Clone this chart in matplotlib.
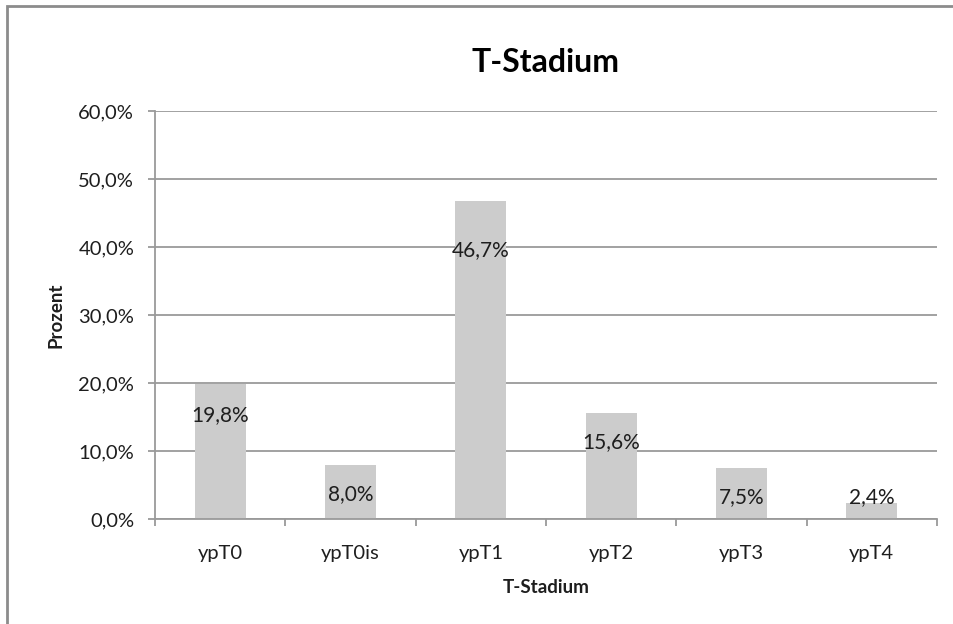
import numpy as np
import matplotlib
matplotlib.use("Agg")
import matplotlib.pyplot as plt
from matplotlib.patches import Rectangle
from matplotlib.ticker import FuncFormatter

# T-Stadium Verteilung (Prozent)
stadien = ["ypT0", "ypT0is", "ypT1", "ypT2", "ypT3", "ypT4"]
prozent = [19.8, 8.0, 46.7, 15.6, 7.5, 2.4]
# Lage der Beschriftung relativ zur Balkenoberkante (Punkte)
label_offset = [-22, -21, -35, -21, -21, 4]

plt.rcParams['font.family'] = ['Lato', 'DejaVu Sans']

grau = "#9a9a9a"
text_farbe = "#1e1e1e"

fig = plt.figure(figsize=(9.54, 6.24), dpi=100)
ax = fig.add_axes([155 / 954, 1 - 519 / 624, (937 - 155) / 954, (519 - 111) / 624])

x = np.arange(len(stadien))
bars = ax.bar(x, prozent, width=0.39, color="#cccccc", zorder=2)

for xi, wert, off in zip(x, prozent, label_offset):
    ax.annotate(f"{wert:.1f}%".replace(".", ","), (xi, wert), xytext=(0, off),
                textcoords="offset points", ha="center", va="center",
                fontsize=15, color=text_farbe, zorder=3)

ax.set_xlim(-0.5, len(stadien) - 0.5)
ax.set_ylim(0, 60)
ax.set_yticks(np.arange(0, 61, 10))
ax.yaxis.set_major_formatter(FuncFormatter(lambda v, p: f"{v:.1f}%".replace(".", ",")))
ax.yaxis.grid(True, color=grau, linewidth=1.3, zorder=0)
ax.set_axisbelow(True)

# Striche zwischen den Kategorien
ax.set_xticks(np.arange(-0.5, len(stadien), 1.0))
ax.set_xticklabels([])
ax.set_xticks(x, minor=True)
ax.set_xticklabels(stadien, minor=True)
ax.tick_params(axis="x", which="minor", length=0, pad=19, labelsize=14.5, labelcolor=text_farbe)
ax.tick_params(axis="x", which="major", length=5, width=1.3, color=grau, direction="out")
ax.tick_params(axis="y", length=5, width=1.3, color=grau, pad=10, labelsize=14.5, labelcolor=text_farbe)

for s in ["top", "right"]:
    ax.spines[s].set_visible(False)
for s in ["left", "bottom"]:
    ax.spines[s].set_color(grau)
    ax.spines[s].set_linewidth(1.3)

ax.set_ylabel("Prozent", fontsize=13.5, fontweight="bold", color=text_farbe, labelpad=10)
ax.set_xlabel("T-Stadium", fontsize=13.5, fontweight="bold", color=text_farbe, labelpad=12)
ax.set_title("T-Stadium", fontsize=23, fontweight="bold", color="black", pad=28)

# Rahmen um das Diagramm (nur links und oben sichtbar)
fig.patches.append(Rectangle((7 / 954, -0.1), 1.2, 1 - 6 / 624 + 0.1, transform=fig.transFigure,
                             fill=False, edgecolor="#8c8c8c", linewidth=2))

fig.savefig("out.png", dpi=100)
